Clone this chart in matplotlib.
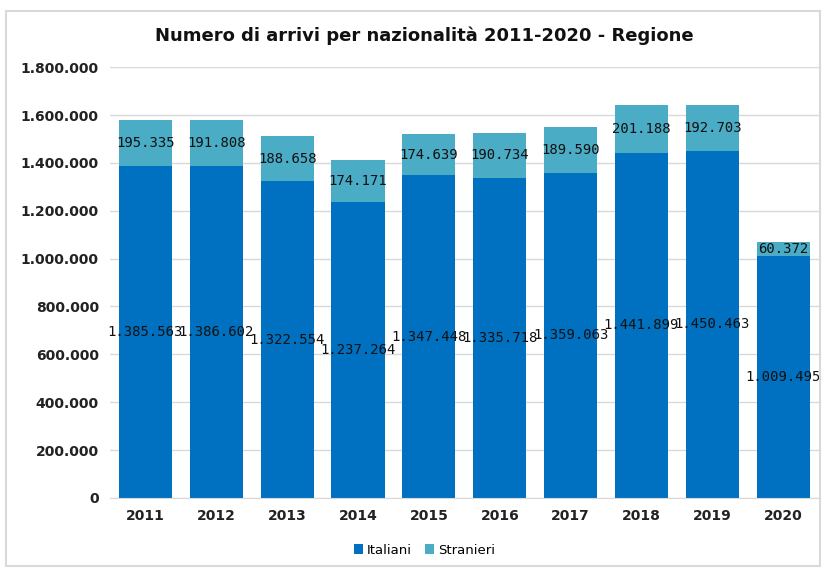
import numpy as np
import matplotlib
matplotlib.use("Agg")
import matplotlib.pyplot as plt
from matplotlib.ticker import FuncFormatter
from matplotlib.patches import Rectangle

# Dati
anni = ["2011", "2012", "2013", "2014", "2015", "2016", "2017", "2018", "2019", "2020"]
italiani = [1385563, 1386602, 1322554, 1237264, 1347448, 1335718, 1359063, 1441899, 1450463, 1009495]
stranieri = [195335, 191808, 188658, 174171, 174639, 190734, 189590, 201188, 192703, 60372]

col_ita = "#0070C0"
col_str = "#4BACC6"

def fmt_it(v):
    return f"{int(v):,}".replace(",", ".")

fig = plt.figure(figsize=(8.24, 5.69), dpi=100)
ax = fig.add_axes([0.1335, 0.125, 0.860, 0.757])

x = np.arange(len(anni))
w = 0.75
b1 = ax.bar(x, italiani, width=w, color=col_ita, label="Italiani", zorder=2)
b2 = ax.bar(x, stranieri, width=w, bottom=italiani, color=col_str, label="Stranieri", zorder=2)

# etichette al centro dei segmenti
for i in range(len(anni)):
    ax.text(x[i], italiani[i] / 2, fmt_it(italiani[i]), ha="center", va="center",
            fontsize=10, family="DejaVu Sans Mono", color="#111111", zorder=3)
    ax.text(x[i], italiani[i] + stranieri[i] / 2, fmt_it(stranieri[i]), ha="center", va="center",
            fontsize=10, family="DejaVu Sans Mono", color="#111111", zorder=3)

ax.set_ylim(0, 1800000)
ax.set_yticks(np.arange(0, 1800001, 200000))
ax.yaxis.set_major_formatter(FuncFormatter(lambda v, p: fmt_it(v)))
ax.set_xlim(-0.5, len(anni) - 0.5)
ax.set_xticks(x)
ax.set_xticklabels(anni)
ax.grid(axis="y", color="#d9d9d9", linewidth=1, zorder=0)
for s in ["top", "right", "left"]:
    ax.spines[s].set_visible(False)
ax.spines["bottom"].set_color("#d9d9d9")
ax.tick_params(axis="both", length=0, labelsize=10, colors="#222222", pad=8)
for lbl in ax.get_xticklabels() + ax.get_yticklabels():
    lbl.set_fontweight("bold")

fig.text(0.515, 0.938, "Numero di arrivi per nazionalità 2011-2020 - Regione",
         ha="center", va="center", fontsize=13, fontweight="bold", color="#111111")

fig.legend(handles=[b1, b2], labels=["Italiani", "Stranieri"], loc="center",
           bbox_to_anchor=(0.515, 0.033), ncol=2, frameon=False, fontsize=9.5,
           handlelength=0.7, handleheight=0.7, handletextpad=0.3, columnspacing=1.0)

# bordo del grafico
fig.patches.append(Rectangle((0.007, 0.006), 0.988, 0.975, transform=fig.transFigure,
                             fill=False, edgecolor="#d9d9d9", linewidth=1.5))

fig.savefig("out.png", dpi=100)
